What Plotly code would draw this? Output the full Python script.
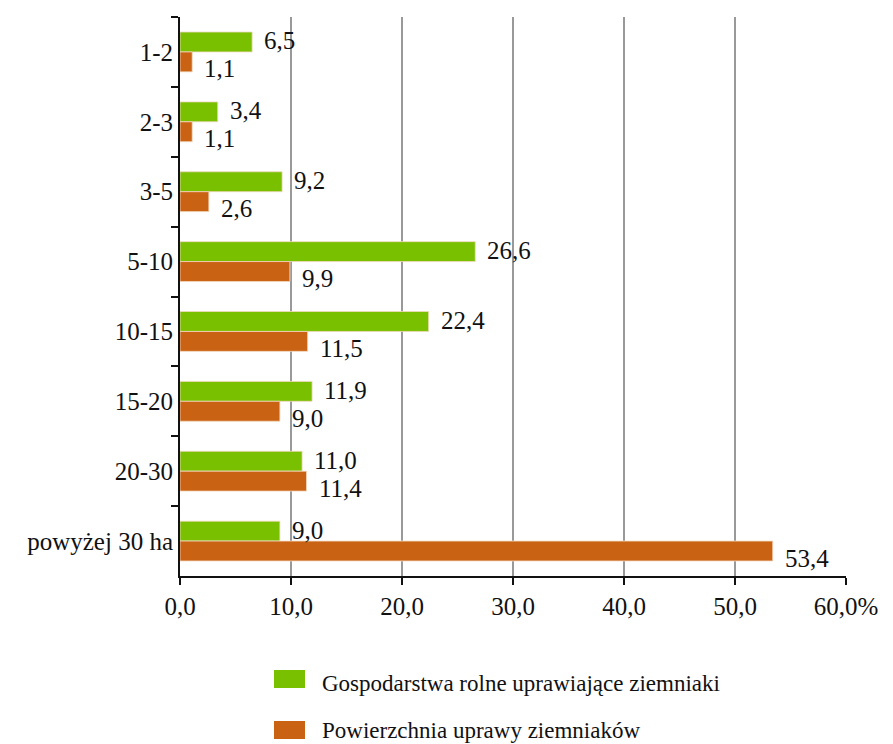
import plotly.graph_objects as go

categories = ["1-2", "2-3", "3-5", "5-10", "10-15", "15-20", "20-30", "powyżej 30 ha"]
farms = [6.5, 3.4, 9.2, 26.6, 22.4, 11.9, 11.0, 9.0]
area = [1.1, 1.1, 2.6, 9.9, 11.5, 9.0, 11.4, 53.4]
series_names = ["Gospodarstwa rolne uprawiające ziemniaki", "Powierzchnia uprawy ziemniaków"]
tick_vals = [0, 10, 20, 30, 40, 50, 60]
tick_text = ["0,0", "10,0", "20,0", "30,0", "40,0", "50,0", "60,0%"]

GREEN = "#78C000"
ORANGE = "#CA6214"
FONT = "Liberation Serif"
FS = 25

# plot area in page pixels (page has an 8px body margin)
PX0, PX1, PY0, PY1 = 180, 846, 17, 576

def fmt(v):
    return f"{v:.1f}".replace(".", ",")

def px_to_paper_x(px):
    return (px - PX0) / (PX1 - PX0)

def px_to_paper_y(py):
    return (PY1 - py) / (PY1 - PY0)

fig = go.Figure()
for vals, color, name in [(farms, GREEN, series_names[0]), (area, ORANGE, series_names[1])]:
    fig.add_trace(go.Bar(
        y=categories, x=vals, orientation="h", name=name,
        marker=dict(color=color, line=dict(color="#F3D9C0", width=0.8)),
        showlegend=False, hoverinfo="skip",
    ))

annotations = []
for cat, v in zip(categories, farms):
    annotations.append(dict(x=v, y=cat, text=fmt(v), showarrow=False, xanchor="left",
                            xshift=10, yshift=11, font=dict(family=FONT, size=FS, color="#111")))
for cat, v in zip(categories, area):
    annotations.append(dict(x=v, y=cat, text=fmt(v), showarrow=False, xanchor="left",
                            xshift=10, yshift=-17, font=dict(family=FONT, size=FS, color="#111")))

# custom legend with large swatches like the reference
legend_swatch_centers = [679, 730]
legend_text_centers = [683, 730]
for name, color, cy, ty in zip(series_names, [GREEN, ORANGE], legend_swatch_centers, legend_text_centers):
    fig.add_shape(type="rect", xref="paper", yref="paper",
                  x0=px_to_paper_x(274), x1=px_to_paper_x(305),
                  y0=px_to_paper_y(cy + 9), y1=px_to_paper_y(cy - 9),
                  fillcolor=color, line=dict(width=0))
    annotations.append(dict(xref="paper", yref="paper", x=px_to_paper_x(320), y=px_to_paper_y(ty),
                            text=name, showarrow=False, xanchor="left", yanchor="middle",
                            font=dict(family=FONT, size=23, color="#111")))

fig.update_layout(
    width=893, height=744,
    margin=dict(l=PX0 - 8, r=893 + 8 - PX1, t=PY0 - 8, b=744 + 8 - PY1),
    paper_bgcolor="white", plot_bgcolor="white",
    barmode="group", bargap=0.43, bargroupgap=0,
    font=dict(family=FONT, size=FS, color="#111"),
    annotations=annotations,
    xaxis=dict(range=[0, 60], tickvals=tick_vals, ticktext=tick_text,
               showgrid=True, gridcolor="#999999", gridwidth=2,
               showline=True, linecolor="#111", linewidth=2,
               ticks="outside", ticklen=7, tickwidth=2, tickcolor="#111",
               zeroline=False, tickfont=dict(family=FONT, size=FS), automargin=False),
    yaxis=dict(autorange="reversed", type="category", showline=True, linecolor="#111",
               linewidth=2, ticks="outside", tickson="boundaries", ticklen=7,
               tickwidth=2, tickcolor="#111", showgrid=False, automargin=False,
               tickfont=dict(family=FONT, size=FS)),
)

fig.write_html("out.html")
